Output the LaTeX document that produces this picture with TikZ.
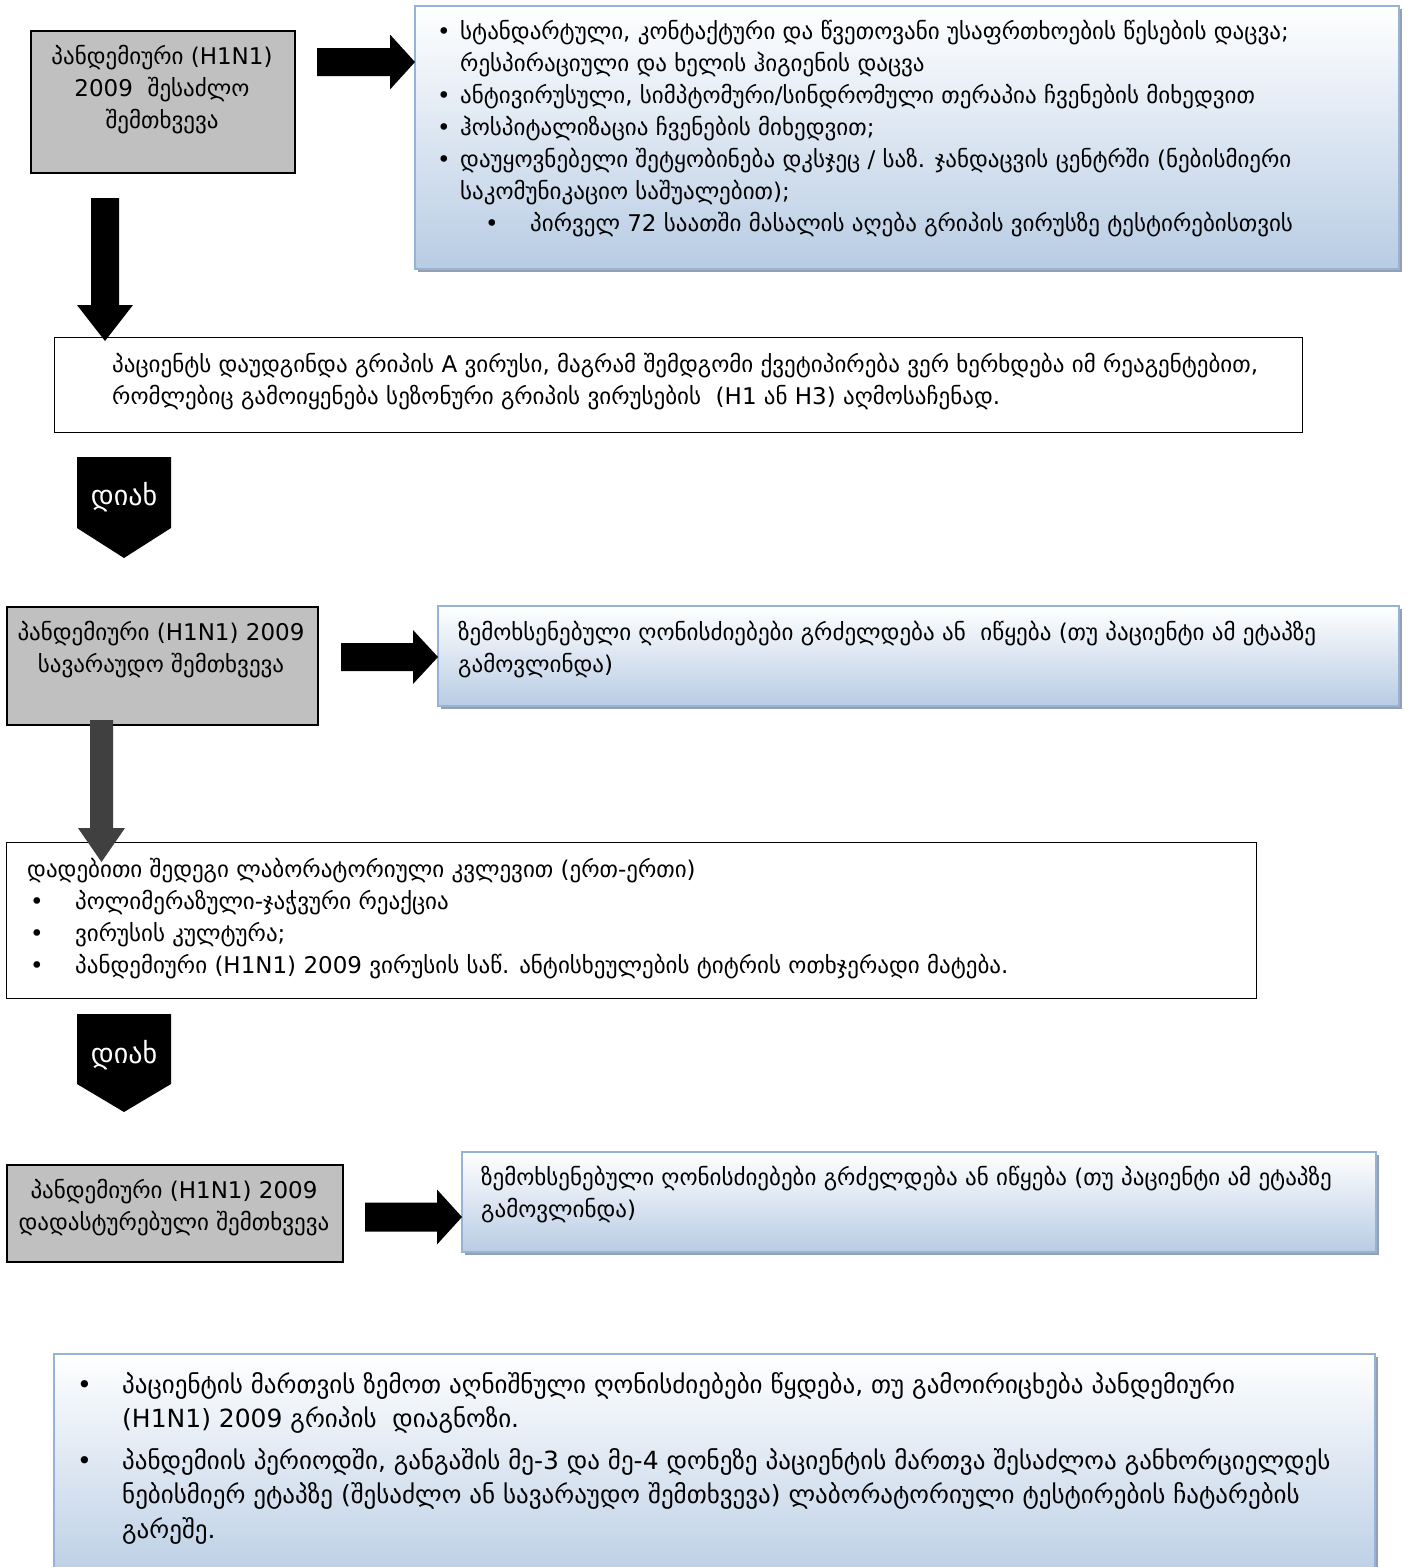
\documentclass[tikz,border=0pt]{standalone}
\usepackage{fontspec}
\setmainfont{DejaVu Sans}
\usetikzlibrary{calc,shadows}
\definecolor{bluebot}{RGB}{184,204,228}
\definecolor{blueedge}{RGB}{149,179,215}
\definecolor{grayfill}{RGB}{192,192,192}
\definecolor{shadowcol}{RGB}{125,135,155}
\definecolor{darkarrow}{RGB}{64,64,64}
\newcommand{\rightblock}[6]{%
  \fill[#6] let \p1=(#1), \p2=(#2) in
   (\x1,\y1+#3) -- (\x2-#5,\y1+#3) -- (\x2-#5,\y1+#4) -- (\x2,\y2) --
   (\x2-#5,\y1-#4) -- (\x2-#5,\y1-#3) -- (\x1,\y1-#3) -- cycle;}
\newcommand{\downblock}[6]{%
  \fill[#6] let \p1=(#1), \p2=(#2) in
   (\x1-#3,\y1) -- (\x1-#3,\y2+#5) -- (\x1-#4,\y2+#5) -- (\x2,\y2) --
   (\x1+#4,\y2+#5) -- (\x1+#3,\y2+#5) -- (\x1+#3,\y1) -- cycle;}
\newcommand{\bul}[1]{\makebox[#1][l]{•}}
\begin{document}
\begin{tikzpicture}[x=1pt,y=-1pt,
  txt/.style={inner sep=0pt, font=\fontsize{23}{32}\selectfont, align=left},
  bigtxt/.style={inner sep=0pt, font=\fontsize{25}{34.5}\selectfont, align=left},
  graynode/.style={draw=black, line width=1.5pt, fill=grayfill, anchor=north west, inner sep=0pt},
  whitenode/.style={draw=black, line width=1.3pt, fill=white, anchor=north west, inner sep=0pt},
  bluenode/.style={draw=blueedge, line width=1.5pt, top color=white, bottom color=bluebot,
    anchor=north west, inner sep=0pt,
    drop shadow={shadow xshift=3pt, shadow yshift=-3pt, fill=shadowcol, opacity=0.8}},
  yestxt/.style={inner sep=0pt, text=white, font=\fontsize{28}{30}\selectfont},
]
\useasboundingbox (0,0) rectangle (1408,1567);

% boxes
\node[graynode, minimum width=264pt, minimum height=142pt] (b1) at (30,30) {};
\node[bluenode, minimum width=984pt, minimum height=263pt] (blue1) at (414,5) {};
\node[whitenode, minimum width=1248pt, minimum height=95pt] (b2) at (54,337) {};
\node[graynode, minimum width=311pt, minimum height=118pt] (b3) at (6,606) {};
\node[bluenode, minimum width=961pt, minimum height=100pt] (blue2) at (437,605) {};
\node[whitenode, minimum width=1250pt, minimum height=156pt] (b4) at (6,842) {};
\node[graynode, minimum width=336pt, minimum height=97pt] (b5) at (6,1164) {};
\node[bluenode, minimum width=914pt, minimum height=100pt] (blue3) at (461,1151) {};
\node[bluenode, minimum width=1321pt, minimum height=235pt] (blue4) at (53,1353) {};

% "yes" pointers
\fill[black] (77,457) -- (171,457) -- (171,528) -- (124,558) -- (77,528) -- cycle;
\node[yestxt] (yes1) at (124,497) {დიახ};
\fill[black] (77,1014) -- (171,1014) -- (171,1084) -- (124,1112) -- (77,1084) -- cycle;
\node[yestxt] (yes2) at (124,1055) {დიახ};

% block arrows
\coordinate (a1s) at (317,62);  \coordinate (a1e) at (415,62);
\rightblock{a1s}{a1e}{14pt}{27.5pt}{25pt}{black}
\coordinate (d1s) at (105,198); \coordinate (d1e) at (105,341);
\downblock{d1s}{d1e}{14pt}{28pt}{36pt}{black}
\coordinate (a2s) at (341,657); \coordinate (a2e) at (438,657);
\rightblock{a2s}{a2e}{14pt}{27pt}{25pt}{black}
\coordinate (d2s) at (101.5,720); \coordinate (d2e) at (101.5,862);
\downblock{d2s}{d2e}{11.5pt}{23.5pt}{34pt}{darkarrow}
\coordinate (a3s) at (365,1217); \coordinate (a3e) at (462,1217);
\rightblock{a3s}{a3e}{14.5pt}{27.5pt}{25pt}{black}

% texts
\node[txt, align=center] (t1) at (162,90) {პანდემიური (H1N1)\\2009~ შესაძლო\\შემთხვევა};
\node[txt, anchor=west] (tblue1) at (437,128.5) {%
\bul{23pt}სტანდარტული, კონტაქტური და წვეთოვანი უსაფრთხოების წესების დაცვა;\\
\hspace*{23pt}რესპირაციული და ხელის ჰიგიენის დაცვა\\
\bul{23pt}ანტივირუსული, სიმპტომური/სინდრომული თერაპია ჩვენების მიხედვით\\
\bul{23pt}ჰოსპიტალიზაცია ჩვენების მიხედვით;\\
\bul{23pt}დაუყოვნებელი შეტყობინება დკსჯეც / საზ. ჯანდაცვის ცენტრში (ნებისმიერი\\
\hspace*{23pt}საკომუნიკაციო საშუალებით);\\
\hspace*{48pt}\bul{45pt}პირველ 72 საათში მასალის აღება გრიპის ვირუსზე ტესტირებისთვის};
\node[txt, anchor=west] (t2) at (112,382) {%
პაციენტს დაუდგინდა გრიპის A ვირუსი, მაგრამ შემდგომი ქვეტიპირება ვერ ხერხდება იმ რეაგენტებით,\\
რომლებიც გამოიყენება სეზონური გრიპის ვირუსების~ (H1 ან H3) აღმოსაჩენად.};
\node[txt, align=center] (t3) at (161,650) {პანდემიური (H1N1) 2009\\სავარაუდო შემთხვევა};
\node[txt, anchor=west] (tblue2) at (458,650) {%
ზემოხსენებული ღონისძიებები გრძელდება ან~ იწყება (თუ პაციენტი ამ ეტაპზე\\
გამოვლინდა)};
\node[txt, anchor=west] (t4) at (27,919) {%
დადებითი შედეგი ლაბორატორიული კვლევით (ერთ-ერთი)\\
\hspace*{3pt}\bul{45pt}პოლიმერაზული-ჯაჭვური რეაქცია\\
\hspace*{3pt}\bul{45pt}ვირუსის კულტურა;\\
\hspace*{3pt}\bul{45pt}პანდემიური (H1N1) 2009 ვირუსის საწ. ანტისხეულების ტიტრის ოთხჯერადი მატება.};
\node[txt, align=center] (t5) at (174,1208) {პანდემიური (H1N1) 2009\\დადასტურებული შემთხვევა};
\node[txt, anchor=west] (tblue3) at (481,1195) {%
ზემოხსენებული ღონისძიებები გრძელდება ან იწყება (თუ პაციენტი ამ ეტაპზე\\
გამოვლინდა)};
\node[bigtxt, anchor=west] (tblue4) at (77,1458) {%
\bul{45pt}პაციენტის მართვის ზემოთ აღნიშნული ღონისძიებები წყდება, თუ გამოირიცხება პანდემიური\\
\hspace*{45pt}(H1N1) 2009 გრიპის~ დიაგნოზი.\\[7pt]
\bul{45pt}პანდემიის პერიოდში, განგაშის მე-3 და მე-4 დონეზე პაციენტის მართვა შესაძლოა განხორციელდეს\\
\hspace*{45pt}ნებისმიერ ეტაპზე (შესაძლო ან სავარაუდო შემთხვევა) ლაბორატორიული ტესტირების ჩატარების\\
\hspace*{45pt}გარეშე.};
\end{tikzpicture}
\end{document}
